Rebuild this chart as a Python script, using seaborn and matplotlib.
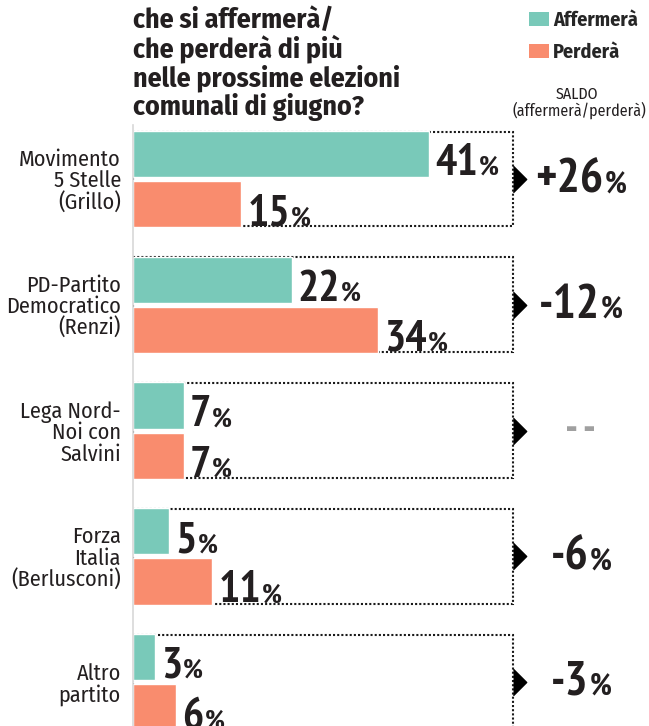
import matplotlib
matplotlib.use("Agg")
import matplotlib.pyplot as plt
import seaborn as sns
import pandas as pd
from matplotlib.patches import Rectangle, Patch
from matplotlib.transforms import IdentityTransform, offset_copy, blended_transform_factory

# ---------------- data ----------------
categories = ["Movimento\n5 Stelle\n(Grillo)",
              "PD-Partito\nDemocratico\n(Renzi)",
              "Lega Nord-\nNoi con\nSalvini",
              "Forza\nItalia\n(Berlusconi)",
              "Altro\npartito"]
affermera = [41, 22, 7, 5, 3]
perdera = [15, 34, 7, 11, 6]
saldo_labels = ["+26", "-12", "- -", "-6", "-3"]
series_names = ["Affermerà", "Perderà"]
title_lines = ["che si affermerà/", "che perderà di più",
               "nelle prossime elezioni", "comunali di giugno?"]
saldo_header = ["SALDO", "(affermerà/perderà)"]

TEAL = "#79c9b9"
ORANGE = "#f98c6e"
DARK = "#231f20"
GRAY = "#a0a0a0"

sns.set_theme(style="white")
TEXT_FONTS = ['Fira Sans Condensed', 'PT Sans Narrow', 'DejaVu Sans']
NUM_FONTS = ['PT Sans Narrow', 'Fira Sans Condensed', 'DejaVu Sans']
plt.rcParams['font.family'] = TEXT_FONTS

df = pd.DataFrame({
    "partito": categories * 2,
    "valore": affermera + perdera,
    "serie": [series_names[0]] * len(categories) + [series_names[1]] * len(categories),
})

W, H = 649, 726
fig = plt.figure(figsize=(W / 100, H / 100), dpi=100)
fig.patch.set_facecolor("white")
ax = fig.add_axes([133 / W, 0, 1 - 133 / W, 1 - 125 / H])

sns.barplot(data=df, x="valore", y="partito", hue="serie", orient="h",
            palette=[TEAL, ORANGE], width=0.8, gap=0.08, saturation=1,
            legend=False, ax=ax, zorder=2)

px_per_unit = 7.22
ax.set_xlim(0, (W - 133) / px_per_unit)
ax.set_ylim(4.35, -0.43)
ax.set_xlabel("")
ax.set_ylabel("")
ax.set_xticks([])
ax.set_yticks([])
for s in ["top", "right", "bottom"]:
    ax.spines[s].set_visible(False)
ax.spines["left"].set_color("#d8d8d8")
ax.spines["left"].set_linewidth(1.2)
ax.set_facecolor("none")

box_right = (513 - 133) / px_per_unit

# category labels
lab_tr = offset_copy(blended_transform_factory(ax.transAxes, ax.transData), fig=fig, x=-12, y=0, units='dots')
for i, c in enumerate(categories):
    ax.text(0, i + 0.02, c, transform=lab_tr, ha="right", va="center",
            fontsize=16, color=DARK, linespacing=1.0)

# dotted boxes and arrows
tri = [(0, -1), (1, 0), (0, 1)]
for i in range(len(categories)):
    ax.add_patch(Rectangle((0, i - 0.377), box_right, 0.754, fill=False,
                           ec="#1a1a1a", lw=1.5, ls=(0, (1, 1)), zorder=1))
    ax.plot([box_right], [i], marker=tri, ms=19, color="black",
            mec="black", zorder=3, clip_on=False)

composites = []

def composite(xp, yp, num, fs1, fs2, color, align="left"):
    t1 = fig.text(xp, yp, num, transform=IdentityTransform(), fontsize=fs1,
                  fontweight="bold", color=color, va="baseline", ha="left",
                  family=NUM_FONTS)
    t2 = None
    if fs2:
        t2 = fig.text(xp, yp, "%", transform=IdentityTransform(), fontsize=fs2,
                      fontweight="bold", color=color, va="baseline", ha="left",
                      family=NUM_FONTS)
    composites.append((t1, t2, xp, yp, align))

# value labels
for i in range(len(categories)):
    for val, dy in ((affermera[i], -0.2), (perdera[i], 0.2)):
        xp, yp = ax.transData.transform((val, i + dy))
        composite(xp + 6, yp - 21, str(val), 32, 20, DARK)

# saldo
saldo_x = 62.0
for i, s in enumerate(saldo_labels):
    xp, yp = ax.transData.transform((saldo_x, i))
    if s.strip("- ") == "":
        composite(xp, yp - 10, s, 32, None, GRAY, align="center")
    else:
        composite(xp, yp - 13, s, 35, 22, DARK, align="center")

# title
for k, line in enumerate(title_lines):
    fig.text(133 / W, 1 - (28 + 29 * k) / H, line, fontsize=20,
             fontweight="bold", color=DARK, va="baseline", ha="left")

# legend
handles = [Patch(facecolor=TEAL, edgecolor="none"), Patch(facecolor=ORANGE, edgecolor="none")]
fig.legend(handles=handles, labels=series_names, loc="upper left",
           bbox_to_anchor=(529 / W, 1 - 11 / H), frameon=False,
           prop={"weight": "bold", "size": 14.5}, handlelength=1.0,
           handleheight=0.7, handletextpad=0.2, labelspacing=0.6,
           borderaxespad=0, borderpad=0)

fig.text(577 / W, 1 - 99 / H, saldo_header[0], fontsize=11.5, color=DARK,
         ha="center", va="baseline")
fig.text(579 / W, 1 - 116 / H, saldo_header[1], fontsize=11.5, color=DARK,
         ha="center", va="baseline")

# position composite labels
fig.canvas.draw()
r = fig.canvas.get_renderer()
for t1, t2, xp, yp, align in composites:
    w1 = t1.get_window_extent(r).width
    w2 = t2.get_window_extent(r).width if t2 is not None else 0
    x0 = xp if align == "left" else xp - (w1 + w2) / 2
    t1.set_position((x0, yp))
    if t2 is not None:
        t2.set_position((x0 + w1 + 1, yp))

fig.savefig("out.png", dpi=100, facecolor="white")
